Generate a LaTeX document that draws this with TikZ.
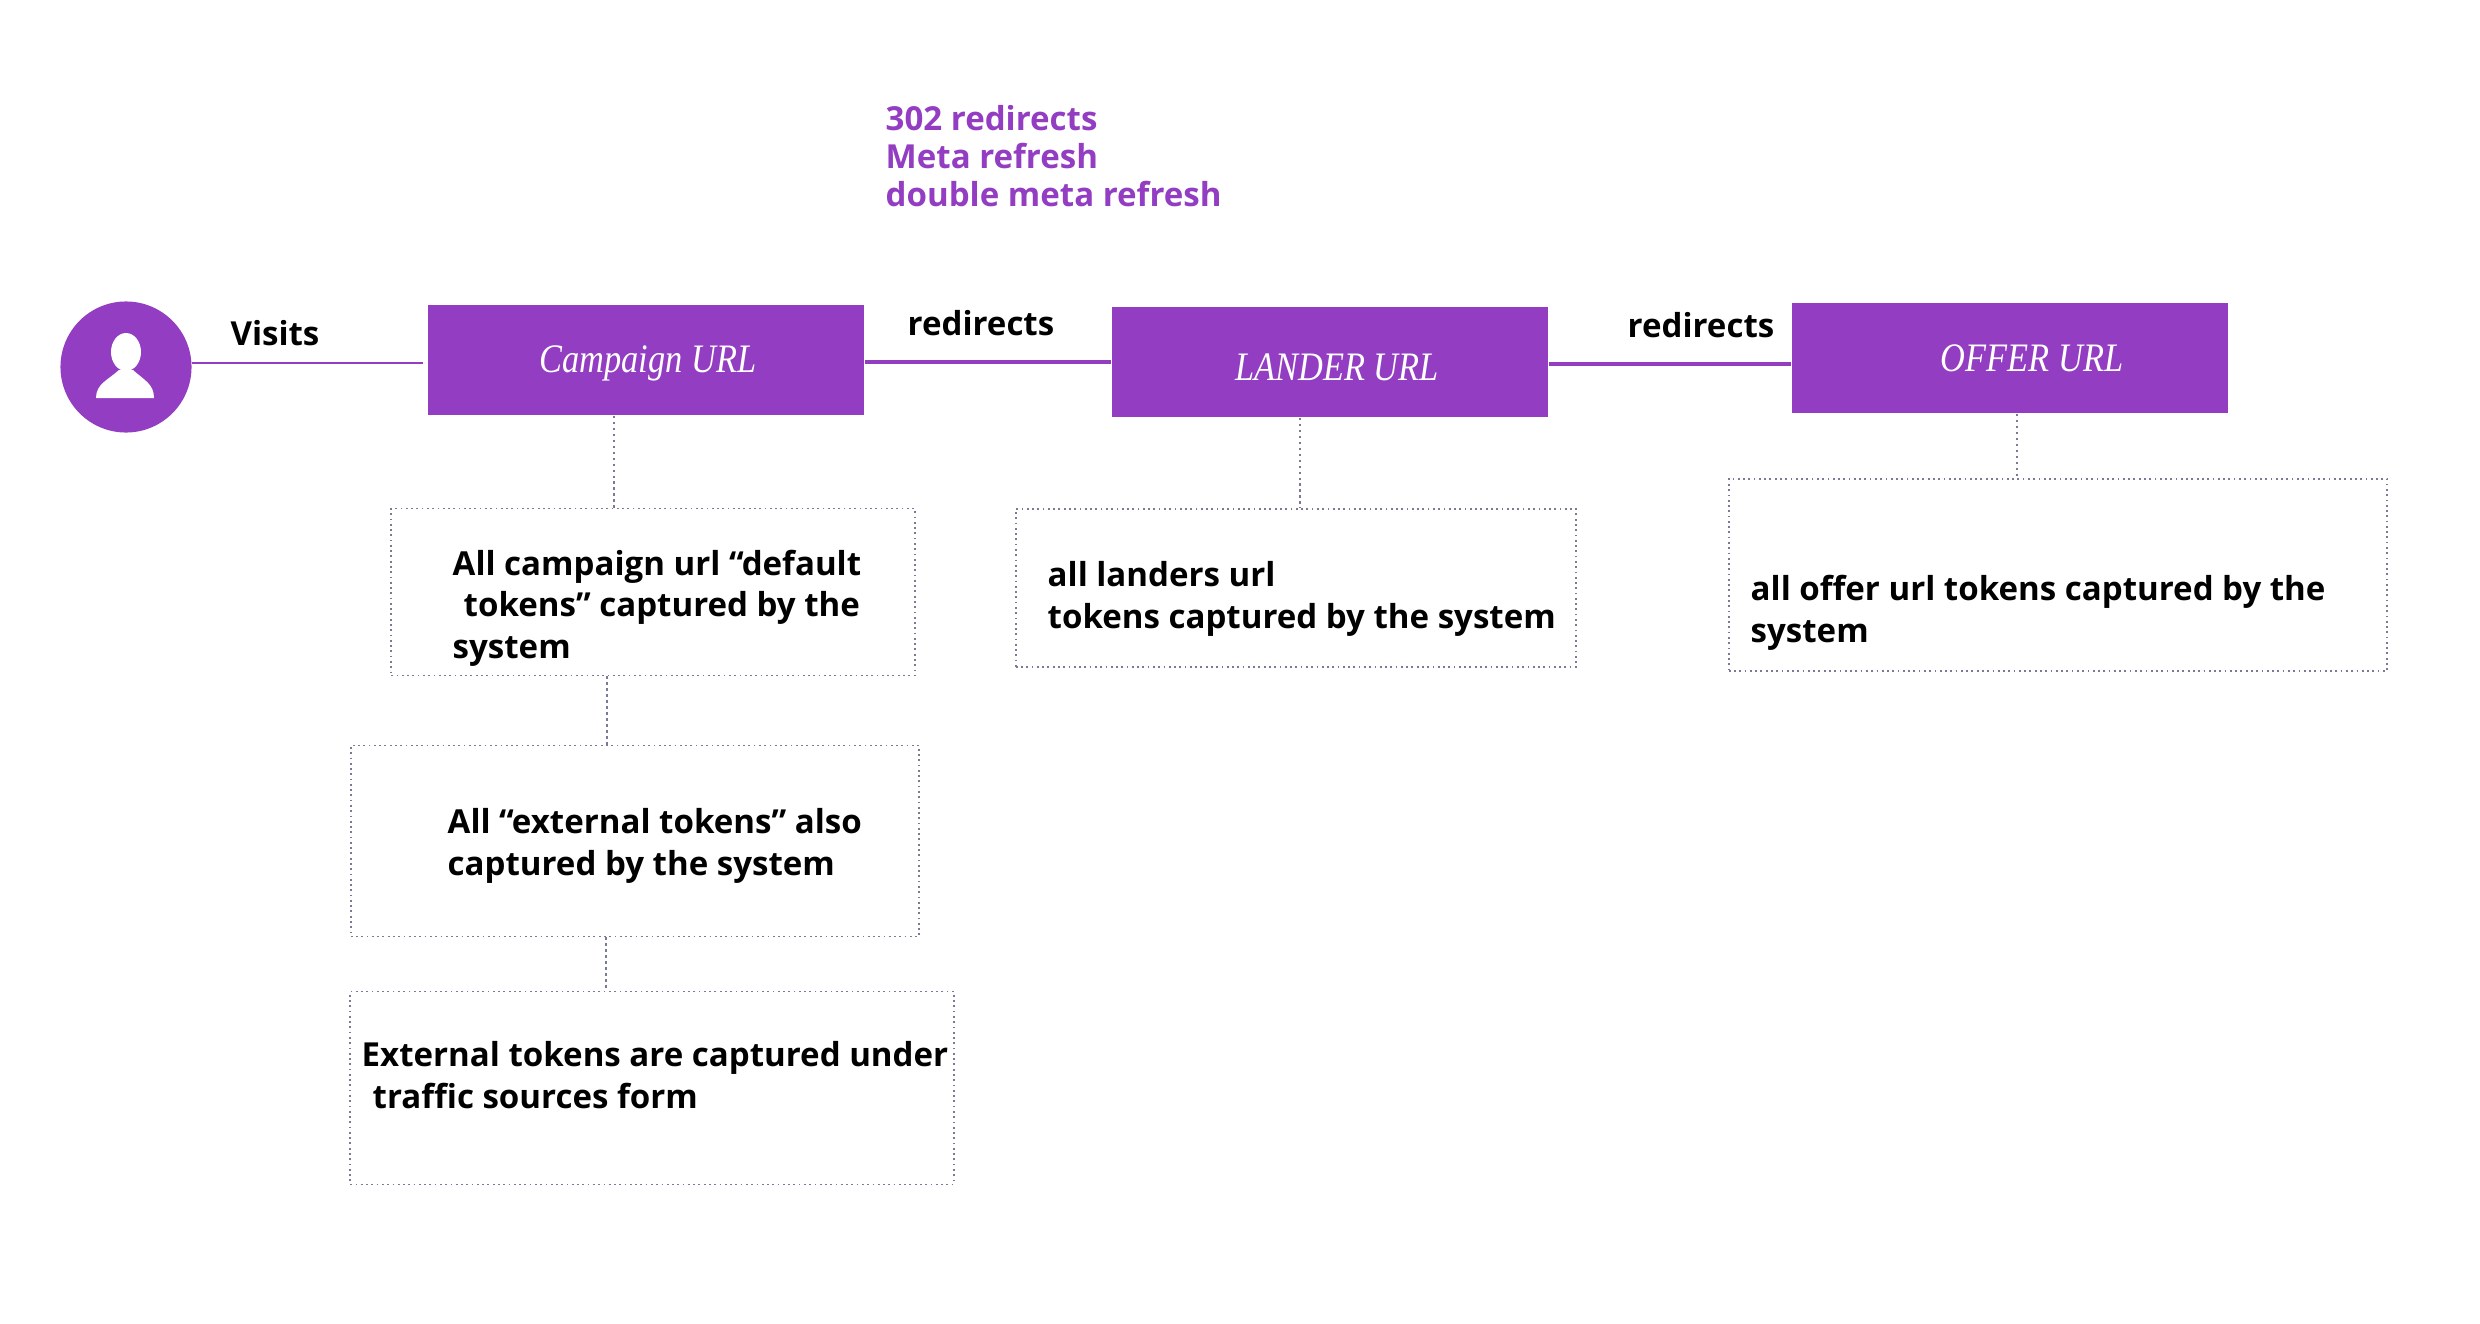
\documentclass[tikz,border=0pt]{standalone}
\usepackage{fontspec}
\setmainfont{Open Sans}
\newfontfamily\urlfont{Liberation Serif}[FakeStretch=0.85]
\definecolor{urlpurple}{HTML}{933DC2}
\definecolor{linkgray}{HTML}{787A96}
\tikzset{
  urlbox/.style={fill=urlpurple,inner sep=0,minimum width=4.36cm,minimum height=1.1cm},
  urltext/.style={inner sep=0,text=white,font=\urlfont\itshape\fontsize{11.5}{13}\selectfont},
  tokenbox/.style={draw=linkgray,densely dotted,line width=0.5pt,inner sep=0},
  tokentext/.style={anchor=north west,inner sep=0,align=left,font=\bfseries\fontsize{9.4}{11.9}\selectfont},
  steplabel/.style={inner sep=0,font=\bfseries\fontsize{9.4}{11.9}\selectfont},
  urlline/.style={draw=urlpurple,line width=1.1pt},
  tokenlink/.style={draw=linkgray,densely dotted,line width=0.7pt}
}
\begin{document}
\begin{tikzpicture}[x=0.01cm,y=-0.01cm]
    \useasboundingbox (0,0) rectangle (2480,1324);
    % visitor
    \node[circle,fill=urlpurple,inner sep=0,minimum size=1.31cm] (visitor) at (126,367) {};
    \fill[white] (126,352) ellipse (15 and 19);
    \fill[white] (96,398) .. controls (96,384) and (108,380) .. (119,370) -- (133,370) .. controls (144,380) and (154,384) .. (154,398) -- cycle;
    % urls
    \node[urlbox] (campaign) at (646,360) {};
    \node[urlbox] (lander) at (1330,362) {};
    \node[urlbox] (offer) at (2010,358) {};
    \node[urltext] (campaigntext) at (648,363) {Campaign URL};
    \node[urltext] (landertitle) at (1337,367) {LANDER URL};
    \node[urltext] (offertitle) at (2032,358) {OFFER URL};
    \draw[urlline,line width=0.6pt,shorten >=0.04cm] (visitor.east |- 0,363) -- (campaign.west |- 0,363);
    \draw[urlline] (campaign.east |- 0,362) -- (lander.west |- 0,362);
    \draw[urlline] (lander.east |- 0,364) -- (offer.west |- 0,364);
    \node[steplabel] (visits) at (275,333) {Visits};
    \node[steplabel] (redirectA) at (981,323) {redirects};
    \node[steplabel] (redirectB) at (1701,325) {redirects};
    \node[tokentext,text=urlpurple,font=\bfseries\fontsize{9.4}{10.7}\selectfont] (kinds) at (885,105) {302 redirects\\Meta refresh\\double meta refresh};
    % token boxes
    \node[tokenbox,minimum width=5.23cm,minimum height=1.67cm] (defaultbox) at (653,592) {};
    \node[tokenbox,minimum width=5.68cm,minimum height=1.91cm] (externalbox) at (635,841) {};
    \node[tokenbox,minimum width=6.03cm,minimum height=1.93cm] (formbox) at (652,1088) {};
    \node[tokenbox,minimum width=5.60cm,minimum height=1.58cm] (landerbox) at (1296,588) {};
    \node[tokenbox,minimum width=6.58cm,minimum height=1.92cm] (offerbox) at (2058,575) {};
    \node[tokentext] (defaulttext) at (452,549) {All campaign url “default\\\hspace{0.11cm}tokens” captured by the\\system};
    \node[tokentext] (externaltext) at (447,808) {All “external tokens” also\\captured by the system};
    \node[tokentext] (formtext) at (361,1041) {External tokens are captured under\\\hspace{0.11cm}traffic sources form};
    \node[tokentext] (landertext) at (1047,561) {all landers url\\tokens captured by the system};
    \node[tokentext] (offertext) at (1750,575) {all offer url tokens captured by the\\system};
    % links
    \coordinate (linkA) at (614,460);
    \coordinate (linkB) at (607,710);
    \coordinate (linkC) at (606,970);
    \coordinate (linkD) at (1300,460);
    \coordinate (linkE) at (2017,450);
    \draw[tokenlink] (linkA |- campaign.south) -- (linkA |- defaultbox.north);
    \draw[tokenlink] (linkB |- defaultbox.south) -- (linkB |- externalbox.north);
    \draw[tokenlink] (linkC |- externalbox.south) -- (linkC |- formbox.north);
    \draw[tokenlink] (linkD |- lander.south) -- (linkD |- landerbox.north);
    \draw[tokenlink] (linkE |- offer.south) -- (linkE |- offerbox.north);
\end{tikzpicture}
\end{document}
